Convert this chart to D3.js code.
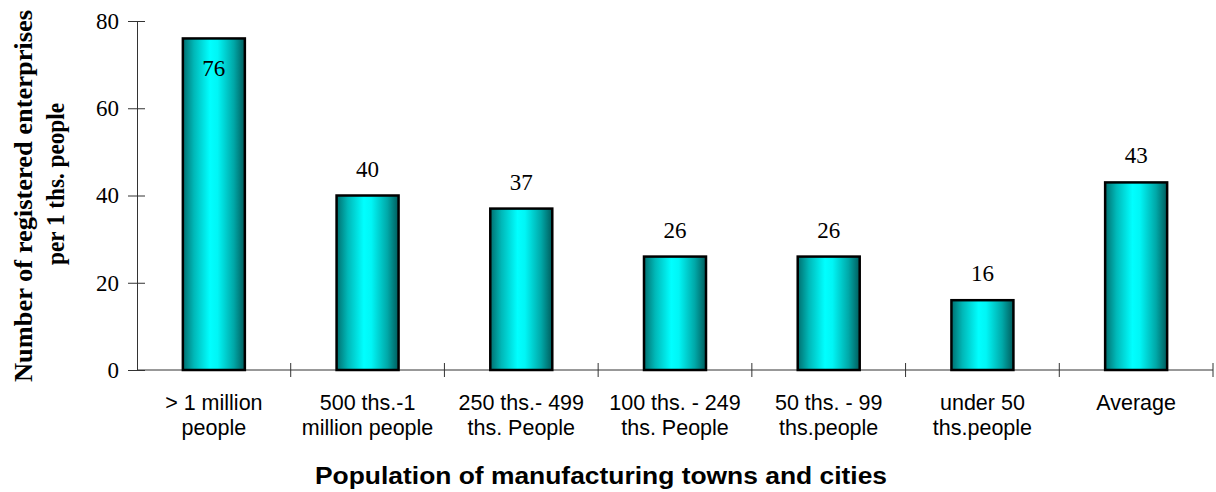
<!DOCTYPE html>
<html>
<head>
<meta charset="utf-8">
<script src="https://cdn.jsdelivr.net/npm/d3@7/dist/d3.min.js"></script>
<style>
  html, body { margin: 0; padding: 0; background: #fff; }
  svg { display: block; }
</style>
</head>
<body>
<svg id="chart" width="1216" height="492"></svg>
<script>
// Town size groups (each label split into its two printed lines)
const categories = [
  ["> 1 million", "people"],
  ["500 ths.-1", "million people"],
  ["250 ths.- 499", "ths. People"],
  ["100 ths. - 249", "ths. People"],
  ["50 ths. - 99", "ths.people"],
  ["under 50", "ths.people"],
  ["Average"]
];
// Registered enterprises per 1 thousand people
const values = [76, 40, 37, 26, 26, 16, 43];
const yTicks = [0, 20, 40, 60, 80];
const yTitle = ["Number of registered enterprises", "per 1 ths. people"];
const xTitle = "Population of manufacturing towns and cities";

const svg = d3.select("#chart");
const margin = { left: 137, right: 1213, top: 21, bottom: 370 };

const keys = categories.map((c, i) => i);
const x = d3.scaleBand().domain(keys).range([margin.left, margin.right]).paddingInner(0).paddingOuter(0);
const y = d3.scaleLinear().domain([0, 80]).range([margin.bottom, margin.top]);

// Horizontal cylinder-like shading for the bars
const defs = svg.append("defs");
const grad = defs.append("linearGradient").attr("id", "barShade")
  .attr("x1", "0%").attr("x2", "100%").attr("y1", "0%").attr("y2", "0%");
[["0%", "#006f6f"], ["18%", "#00b8b8"], ["44%", "#00ffff"], ["56%", "#00f6f6"], ["82%", "#00a8a8"], ["100%", "#005c5c"]]
  .forEach(([o, c]) => grad.append("stop").attr("offset", o).attr("stop-color", c));

// Y axis
const yAxis = d3.axisLeft(y).tickValues(yTicks).tickSizeInner(9).tickSizeOuter(0).tickPadding(9);
const gy = svg.append("g").attr("transform", `translate(${margin.left},0)`).call(yAxis);
gy.select(".domain").attr("stroke", "#333").attr("stroke-width", 1);
gy.selectAll(".tick line").attr("stroke", "#333").attr("x2", 8).attr("x1", -9);
gy.selectAll(".tick text")
  .attr("font-family", "'Liberation Serif', 'Times New Roman', serif")
  .attr("font-size", 23).attr("fill", "#000").attr("x", -18);

// X axis: ticks sit on the category boundaries
const bounds = keys.map(k => x(k)).concat([margin.right]);
svg.append("line")
  .attr("x1", margin.left).attr("x2", margin.right)
  .attr("y1", y(0)).attr("y2", y(0))
  .attr("stroke", "#333").attr("stroke-width", 1);
svg.append("g").selectAll("line").data(bounds.slice(1)).join("line")
  .attr("x1", d => d).attr("x2", d => d)
  .attr("y1", y(0) - 7).attr("y2", y(0) + 7)
  .attr("stroke", "#333").attr("stroke-width", 1);

// Bars
const barW = 62;
svg.append("g").selectAll("rect").data(values).join("rect")
  .attr("x", (d, i) => x(i) + x.bandwidth() / 2 - barW / 2)
  .attr("y", d => y(d))
  .attr("width", barW)
  .attr("height", d => y(0) - y(d))
  .attr("fill", "url(#barShade)")
  .attr("stroke", "#000").attr("stroke-width", 2.5);

// Value labels: above the bar, or inside it when there is no room above
svg.append("g").selectAll("text").data(values).join("text")
  .attr("x", (d, i) => x(i) + x.bandwidth() / 2)
  .attr("y", d => (y(d) - 19 - 23 < 8) ? y(d) + 38 : y(d) - 19)
  .attr("text-anchor", "middle")
  .attr("font-family", "'Liberation Serif', 'Times New Roman', serif")
  .attr("font-size", 23).attr("fill", "#000")
  .text(d => d);

// Category labels
const catG = svg.append("g").selectAll("text").data(categories).join("text")
  .attr("text-anchor", "middle")
  .attr("font-family", "'Liberation Sans', Arial, sans-serif")
  .attr("font-size", 21.5).attr("fill", "#000");
catG.each(function (lines, i) {
  const t = d3.select(this);
  lines.forEach((ln, j) => {
    t.append("tspan")
      .attr("x", x(i) + x.bandwidth() / 2)
      .attr("y", 410 + j * 25)
      .text(ln);
  });
});

// Axis titles
svg.append("text")
  .attr("x", 601)
  .attr("y", 484)
  .attr("text-anchor", "middle")
  .attr("font-family", "'Liberation Sans', Arial, sans-serif")
  .attr("font-weight", "bold").attr("font-size", 23).attr("fill", "#000")
  .attr("textLength", 572).attr("lengthAdjust", "spacingAndGlyphs")
  .text(xTitle);

const yTitleCenter = [196, 184];
const yTitleLen = [372, 162];
const yTitleBase = [32, 64];
yTitle.forEach((ln, j) => {
  svg.append("text")
    .attr("transform", `translate(${yTitleBase[j]},${yTitleCenter[j]}) rotate(-90)`)
    .attr("text-anchor", "middle")
    .attr("font-family", "'Liberation Serif', 'Times New Roman', serif")
    .attr("font-weight", "bold").attr("font-size", 25).attr("fill", "#000")
    .attr("textLength", yTitleLen[j]).attr("lengthAdjust", "spacingAndGlyphs")
    .text(ln);
});
</script>
</body>
</html>
